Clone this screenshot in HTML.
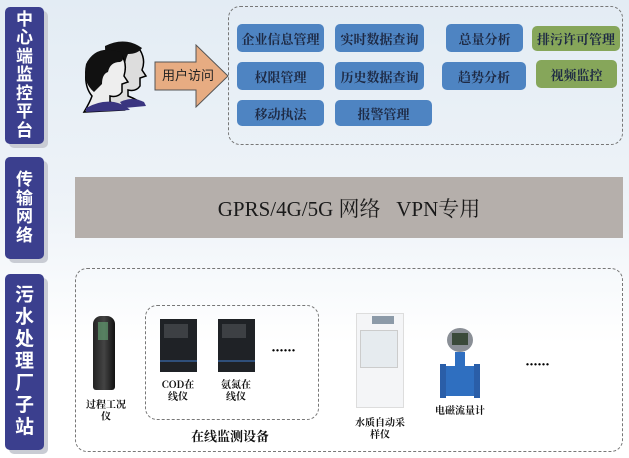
<!DOCTYPE html>
<html><head><meta charset="utf-8"><style>
*{margin:0;padding:0;box-sizing:border-box}
body{width:629px;height:458px;overflow:hidden;position:relative;background:linear-gradient(#e3ecf4 0%,#eef3f8 45%,#ffffff 75%);font-family:"Liberation Serif","Noto Serif CJK SC",serif}
.a{position:absolute}
.lab{position:absolute;left:5px;width:39px;background:#3b3f8e;border-radius:5px;box-shadow:4px 4px 0 #c9ccd4;color:#fff;font-family:"Liberation Sans","Noto Sans CJK SC",sans-serif;font-size:17px;line-height:18.5px;text-align:center;display:flex;flex-direction:column;justify-content:center;align-items:center;font-weight:bold}
.dash{position:absolute;border:1.3px dashed #777;border-radius:12px}
.b{position:absolute;background:#4e84c2;border-radius:5px;color:#1e2a44;font-size:13px;font-weight:bold;display:flex;align-items:center;justify-content:center;font-family:"Noto Serif CJK SC",serif}
.g{background:#86a65a}
.t{position:absolute;font-size:10px;font-weight:bold;text-align:center;line-height:12px;color:#111;font-family:"Noto Serif CJK SC",serif}
</style></head><body>
<div class="lab" style="top:7px;height:137px">中<br>心<br>端<br>监<br>控<br>平<br>台</div>
<div class="lab" style="top:157px;height:102px">传<br>输<br>网<br>络</div>
<div class="lab" style="top:274px;height:176px;font-size:19px;line-height:22px">污<br>水<br>处<br>理<br>厂<br>子<br>站</div>

<!-- people -->
<svg class="a" style="left:80px;top:40px" width="80" height="75" viewBox="0 0 80 75">
<path d="M28 8 Q45 -2 60 10 Q66 20 62 30 L66 36 L60 38 L60 46 Q56 52 48 50 L48 56 Q58 60 62 64 L30 66 Z" fill="#ddd" stroke="#000" stroke-width="1.5"/>
<path d="M25 6 Q45 -4 62 8 Q58 14 48 14 Q44 22 46 30 Q40 28 36 36 L26 40 Z" fill="#111"/>
<path d="M8 22 Q20 6 40 14 Q48 22 44 36 L48 42 L42 44 L42 52 Q38 58 30 56 L30 62 Q40 66 44 70 L4 72 Q10 62 12 56 Q2 44 8 22Z" fill="#eee" stroke="#000" stroke-width="1.5"/>
<path d="M6 24 Q16 4 40 12 Q46 20 40 22 Q30 22 28 32 Q22 34 22 44 L14 52 Q2 42 6 24Z" fill="#111"/>
<path d="M6 68 Q20 60 34 62 Q44 64 50 70 L6 72Z" fill="#3a3580"/>
<path d="M40 62 Q52 56 64 62 L66 66 L44 68Z" fill="#3a3580"/>
</svg>
<!-- arrow -->
<svg class="a" style="left:154px;top:44px" width="76" height="64" viewBox="0 0 76 64">
<path d="M1 18 H42 V1 L74 32 L42 63 V46 H1 Z" fill="#e7ac82" stroke="#555" stroke-width="1"/>
<text x="8" y="36" font-size="13" fill="#222" font-family="Noto Sans CJK SC,sans-serif">用户访问</text>
</svg>

<div class="dash" style="left:228px;top:6px;width:395px;height:139px"></div>
<div class="b" style="left:237px;top:24px;width:87px;height:28px">企业信息管理</div>
<div class="b" style="left:335px;top:24px;width:89px;height:28px">实时数据查询</div>
<div class="b" style="left:446px;top:24px;width:77px;height:28px">总量分析</div>
<div class="b g" style="left:532px;top:26px;width:88px;height:25px">排污许可管理</div>
<div class="b" style="left:237px;top:62px;width:87px;height:28px">权限管理</div>
<div class="b" style="left:335px;top:62px;width:89px;height:28px">历史数据查询</div>
<div class="b" style="left:442px;top:62px;width:84px;height:28px">趋势分析</div>
<div class="b g" style="left:536px;top:60px;width:81px;height:28px">视频监控</div>
<div class="b" style="left:237px;top:100px;width:87px;height:26px">移动执法</div>
<div class="b" style="left:335px;top:100px;width:97px;height:26px">报警管理</div>

<div class="a" style="left:75px;top:177px;width:548px;height:61px;background:#b5afab;display:flex;align-items:center;justify-content:center;font-size:21px;color:#1a1a1a;font-family:'Liberation Serif','Noto Serif CJK SC',serif">GPRS/4G/5G 网络&nbsp;&nbsp;&nbsp;VPN专用</div>

<div class="dash" style="left:75px;top:268px;width:548px;height:184px"></div>
<div class="dash" style="left:145px;top:305px;width:174px;height:115px"></div>
<!-- kiosk -->
<div class="a" style="left:93px;top:316px;width:22px;height:74px;background:linear-gradient(90deg,#222,#444 50%,#111);border-radius:8px 8px 3px 3px"></div>
<div class="a" style="left:98px;top:322px;width:10px;height:18px;background:#6a7;opacity:.6"></div>
<div class="t" style="left:86px;top:398px;width:40px">过程工况<br>仪</div>
<!-- analyzers -->
<div class="a" style="left:160px;top:319px;width:37px;height:53px;background:#1f2226"></div>
<div class="a" style="left:164px;top:324px;width:24px;height:14px;background:#3d4044"></div>
<div class="a" style="left:160px;top:360px;width:37px;height:2px;background:#2f4f7a"></div>
<div class="a" style="left:218px;top:319px;width:37px;height:53px;background:#1f2226"></div>
<div class="a" style="left:222px;top:324px;width:24px;height:14px;background:#3d4044"></div>
<div class="a" style="left:218px;top:360px;width:37px;height:2px;background:#2f4f7a"></div>
<div class="t" style="left:158px;top:378px;width:40px">COD在<br>线仪</div>
<div class="t" style="left:216px;top:378px;width:40px">氨氮在<br>线仪</div>
<div class="a" style="left:271px;top:343px;font-size:15px;font-weight:bold;letter-spacing:-1px">······</div>
<div class="t" style="left:180px;top:428px;width:100px;font-size:13px;line-height:16px">在线监测设备</div>
<!-- sampler -->
<div class="a" style="left:356px;top:313px;width:48px;height:95px;background:#f4f5f7;border:1px solid #ddd"></div>
<div class="a" style="left:360px;top:330px;width:38px;height:38px;background:#e6ebef;border:1px solid #ccc"></div>
<div class="a" style="left:372px;top:316px;width:22px;height:8px;background:#8c9aa8"></div>
<div class="t" style="left:350px;top:416px;width:60px">水质自动采<br>样仪</div>
<!-- flow meter -->
<div class="a" style="left:447px;top:328px;width:26px;height:24px;border-radius:50%;background:#8a8f96"></div>
<div class="a" style="left:452px;top:333px;width:16px;height:12px;background:#3a4a3a"></div>
<div class="a" style="left:455px;top:352px;width:10px;height:16px;background:#2f6fc0"></div>
<div class="a" style="left:442px;top:366px;width:36px;height:30px;background:#2f6fc0;border-radius:3px"></div>
<div class="a" style="left:440px;top:364px;width:6px;height:34px;background:#2a5ea8"></div>
<div class="a" style="left:474px;top:364px;width:6px;height:34px;background:#2a5ea8"></div>
<div class="t" style="left:430px;top:404px;width:60px">电磁流量计</div>
<div class="a" style="left:525px;top:357px;font-size:15px;font-weight:bold;letter-spacing:-1px">······</div>
</body></html>
